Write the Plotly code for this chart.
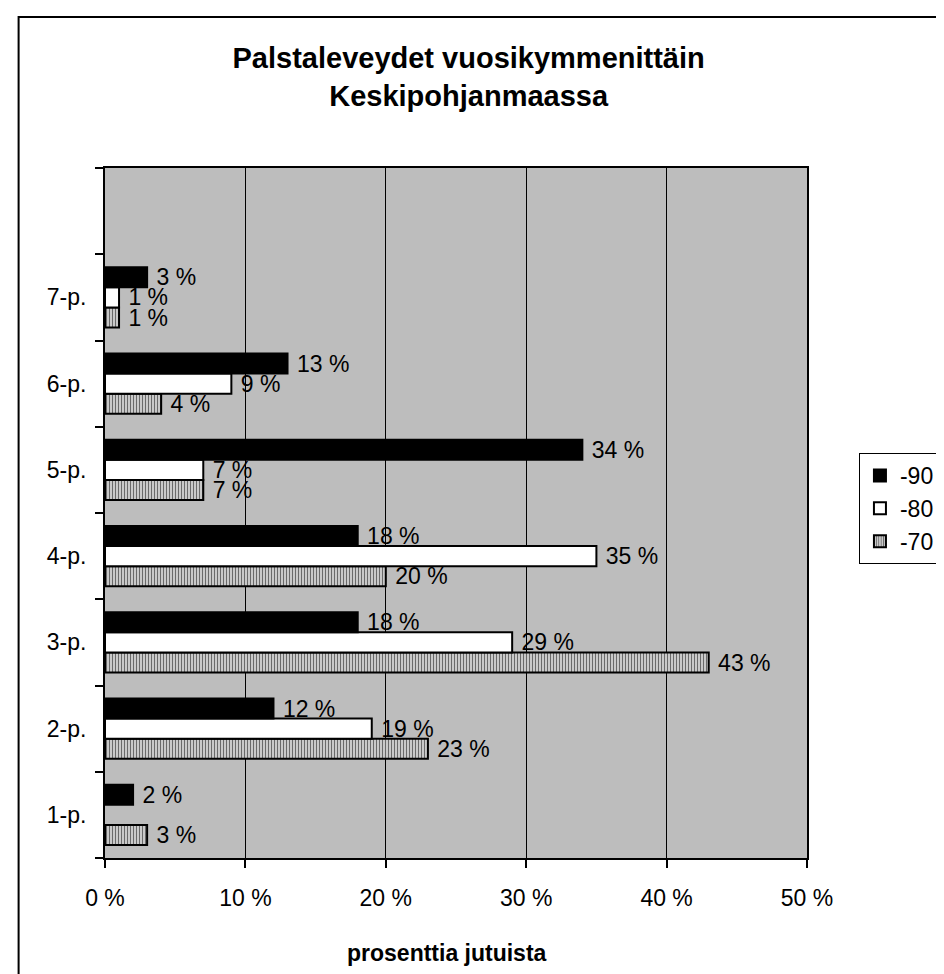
import plotly.graph_objects as go

categories = ["1-p.", "2-p.", "3-p.", "4-p.", "5-p.", "6-p.", "7-p."]
series_names = ["-90", "-80", "-70"]
v90 = [2, 12, 18, 18, 34, 13, 3]
v80 = [None, 19, 29, 35, 7, 9, 1]
v70 = [3, 23, 43, 20, 7, 4, 1]
x_ticks = [0, 10, 20, 30, 40, 50]
x_tick_labels = ["0 %", "10 %", "20 %", "30 %", "40 %", "50 %"]

FONT = "Liberation Sans, Arial, sans-serif"
ypos = list(range(len(categories)))

def labels(vals):
    return [("" if v is None else f" {v} %") for v in vals]

fig = go.Figure()
# bottom-to-top order within a group: -70, -80, -90
fig.add_trace(go.Bar(
    name=series_names[2], y=ypos, x=v70, orientation="h",
    text=labels(v70), textposition="outside", legendgroup="c", legendrank=3,
    marker=dict(color="#c8c8c8", line=dict(color="black", width=2),
                pattern=dict(shape="|", fgcolor="black", bgcolor="#d4d4d4", size=3, solidity=0.4)),
))
fig.add_trace(go.Bar(
    name=series_names[1], y=ypos, x=v80, orientation="h",
    text=labels(v80), textposition="outside", legendgroup="b", legendrank=2,
    marker=dict(color="white", line=dict(color="black", width=2)),
))
fig.add_trace(go.Bar(
    name=series_names[0], y=ypos, x=v90, orientation="h",
    text=labels(v90), textposition="outside", legendgroup="a", legendrank=1,
    marker=dict(color="black", line=dict(color="black", width=2)),
))
fig.update_traces(textfont=dict(family=FONT, size=23, color="black"),
                  constraintext="none", cliponaxis=False, textangle=0)

fig.update_layout(
    width=944, height=974,
    margin=dict(l=97, r=133, t=160, b=124),
    paper_bgcolor="white",
    plot_bgcolor="#bdbdbd",
    barmode="group", bargap=0.3, bargroupgap=0,
    font=dict(family=FONT, size=23, color="black"),
    title=dict(text="<b>Palstaleveydet vuosikymmenittäin<br>Keskipohjanmaassa</b>",
               font=dict(family=FONT, size=29, color="black"),
               x=0.518, xref="paper", xanchor="center",
               y=1 - 60 / 974, yref="container", yanchor="middle"),
    legend=dict(x=1.074, y=(850 - 445) / 690, xanchor="left", yanchor="top",
                bgcolor="white", bordercolor="black", borderwidth=1,
                font=dict(family=FONT, size=23, color="black"),
                tracegroupgap=11, traceorder="normal"),
    showlegend=True,
    xaxis=dict(range=[0, 50], tickvals=x_ticks, ticktext=x_tick_labels,
               showgrid=True, gridcolor="black", gridwidth=1,
               showline=True, linecolor="black", linewidth=2, mirror=True,
               ticks="outside", ticklen=8, tickcolor="black", tickwidth=1.5,
               zeroline=False, ticklabelstandoff=10),
    yaxis=dict(range=[-0.5, 7.5], tickvals=ypos, ticktext=categories,
               showgrid=False, zeroline=False,
               showline=True, linecolor="black", linewidth=2, mirror=True,
               ticks="", ticklabelstandoff=12,
               minor=dict(tick0=-0.5, dtick=1, ticks="outside", ticklen=8,
                          tickcolor="black", tickwidth=1.5, showgrid=False)),
    annotations=[dict(text="<b>prosenttia jutuista</b>", xref="paper", yref="paper",
                      x=0.487, y=(850 - 945) / 690, xanchor="center", yanchor="middle",
                      showarrow=False, font=dict(family=FONT, size=23, color="black"))],
    shapes=[dict(type="rect", xref="paper", yref="paper",
                 x0=(9 - 97) / 715, x1=(980 - 97) / 715,
                 y0=(850 - 1000) / 690, y1=(850 - 9) / 690,
                 line=dict(color="black", width=2), fillcolor="rgba(0,0,0,0)", layer="below")],
)

fig.write_html("out.html")
